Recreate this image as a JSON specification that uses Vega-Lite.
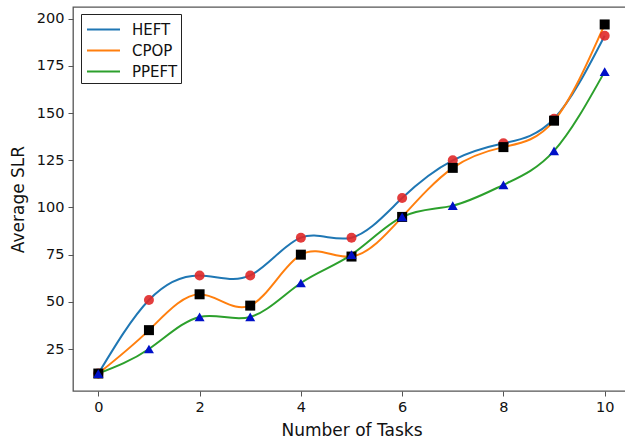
{
  "$schema": "https://vega.github.io/schema/vega-lite/v6.json",
  "width": 557,
  "height": 384,
  "autosize": {"type": "none"},
  "padding": {"left": 73, "top": 7, "right": 0, "bottom": 53},
  "config": {
    "font": "DejaVu Sans",
    "view": {"stroke": "#555", "strokeWidth": 1.3},
    "axis": {"grid": false, "domain": false, "tickColor": "#555", "tickSize": 5, "labelFontSize": 14.5, "labelColor": "#111", "titleFontSize": 17, "titleFontWeight": "normal", "titleColor": "#111", "labelPadding": 4}
  },
  "data": {
    "values": [
      {"x": 0, "series": "HEFT", "v": 12},
      {"x": 1, "series": "HEFT", "v": 51},
      {"x": 2, "series": "HEFT", "v": 64},
      {"x": 3, "series": "HEFT", "v": 64},
      {"x": 4, "series": "HEFT", "v": 84},
      {"x": 5, "series": "HEFT", "v": 84},
      {"x": 6, "series": "HEFT", "v": 105},
      {"x": 7, "series": "HEFT", "v": 125},
      {"x": 8, "series": "HEFT", "v": 134},
      {"x": 9, "series": "HEFT", "v": 147},
      {"x": 10, "series": "HEFT", "v": 191},
      {"x": 0, "series": "CPOP", "v": 12},
      {"x": 1, "series": "CPOP", "v": 35},
      {"x": 2, "series": "CPOP", "v": 54},
      {"x": 3, "series": "CPOP", "v": 48},
      {"x": 4, "series": "CPOP", "v": 75},
      {"x": 5, "series": "CPOP", "v": 74},
      {"x": 6, "series": "CPOP", "v": 95},
      {"x": 7, "series": "CPOP", "v": 121},
      {"x": 8, "series": "CPOP", "v": 132},
      {"x": 9, "series": "CPOP", "v": 146},
      {"x": 10, "series": "CPOP", "v": 197},
      {"x": 0, "series": "PPEFT", "v": 12},
      {"x": 1, "series": "PPEFT", "v": 25},
      {"x": 2, "series": "PPEFT", "v": 42},
      {"x": 3, "series": "PPEFT", "v": 42},
      {"x": 4, "series": "PPEFT", "v": 60},
      {"x": 5, "series": "PPEFT", "v": 75},
      {"x": 6, "series": "PPEFT", "v": 95},
      {"x": 7, "series": "PPEFT", "v": 101},
      {"x": 8, "series": "PPEFT", "v": 112},
      {"x": 9, "series": "PPEFT", "v": 130},
      {"x": 10, "series": "PPEFT", "v": 172}
    ]
  },
  "encoding": {
    "x": {"field": "x", "type": "quantitative", "scale": {"domain": [-0.5, 10.5], "nice": false, "zero": false}, "axis": {"values": [0, 2, 4, 6, 8, 10], "title": "Number of Tasks", "titleY": 39, "titleBaseline": "middle"}},
    "y": {"field": "v", "type": "quantitative", "scale": {"domain": [2.75, 206.25], "nice": false, "zero": false}, "axis": {"values": [25, 50, 75, 100, 125, 150, 175, 200], "title": "Average SLR", "titleX": -55, "titleBaseline": "middle"}}
  },
  "layer": [
    {
      "mark": {"type": "line", "interpolate": "natural", "strokeWidth": 2},
      "encoding": {
        "color": {"field": "series", "type": "nominal", "sort": ["HEFT", "CPOP", "PPEFT"],
          "scale": {"domain": ["HEFT", "CPOP", "PPEFT"], "range": ["#1f77b4", "#ff7f0e", "#2ca02c"]},
          "legend": {"title": null, "orient": "none", "legendX": 8, "legendY": 7, "symbolType": "M-1.5,0H1.5", "symbolSize": 484, "symbolStrokeWidth": 2.2, "symbolOffset": 7, "labelFontSize": 15, "labelColor": "#111", "labelOffset": 16, "padding": 3, "rowPadding": 0, "strokeColor": "#222", "fillColor": "white", "cornerRadius": 0}
        }
      }
    },
    {
      "transform": [{"filter": "datum.series === 'HEFT'"}],
      "mark": {"type": "point", "shape": "circle", "filled": true, "color": "#e02828", "size": 100, "opacity": 0.9}
    },
    {
      "transform": [{"filter": "datum.series === 'CPOP'"}],
      "mark": {"type": "point", "shape": "square", "filled": true, "color": "#000", "size": 100, "opacity": 1}
    },
    {
      "transform": [{"filter": "datum.series === 'PPEFT'"}],
      "mark": {"type": "point", "shape": "triangle-up", "filled": true, "color": "#0010c8", "size": 100, "opacity": 1}
    }
  ]
}
